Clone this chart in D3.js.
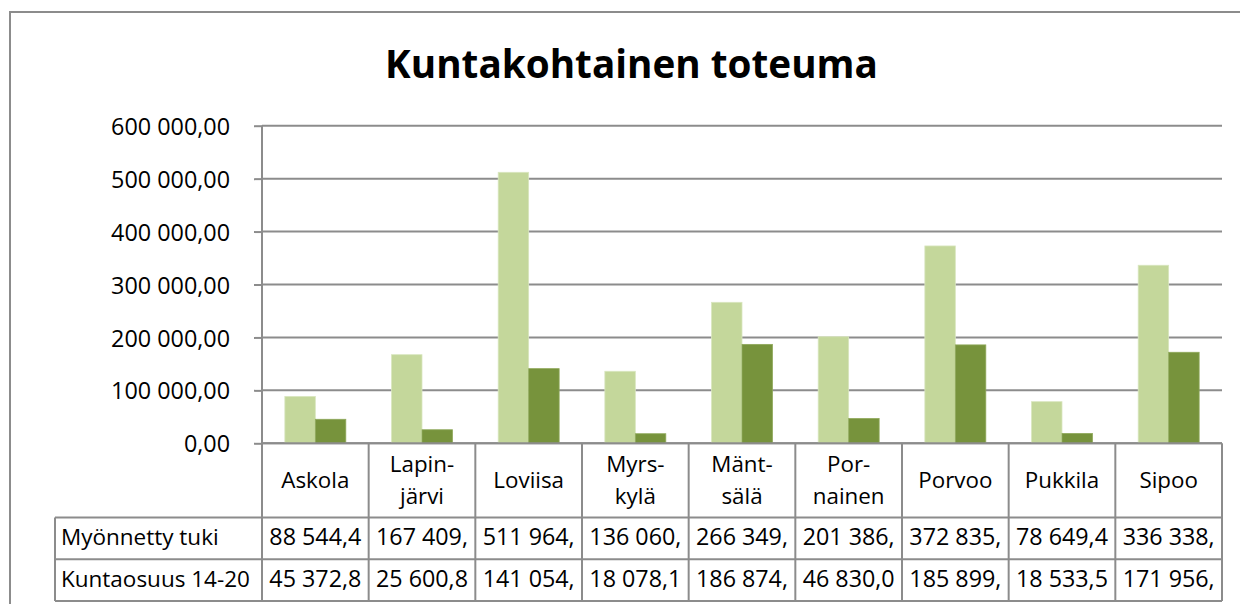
<!DOCTYPE html>
<html>
<head>
<meta charset="utf-8">
<script src="https://cdn.jsdelivr.net/npm/d3@7"></script>
<style>
  html, body { margin: 0; padding: 0; background: #fff; }
  svg { display: block; }
  text { font-family: "Open Sans", "Noto Sans", sans-serif; fill: #000; }
</style>
</head>
<body>
<svg id="chart" width="1240" height="604"></svg>
<script>
// ---------- DATA ----------
const categories = ["Askola", "Lapin-\njärvi", "Loviisa", "Myrs-\nkylä", "Mänt-\nsälä", "Por-\nnainen", "Porvoo", "Pukkila", "Sipoo"];
const seriesNames = ["Myönnetty tuki", "Kuntaosuus 14-20"];
const myonnettyTuki = [88544.4, 167409, 511964, 136060, 266349, 201386, 372835, 78649.4, 336338];
const kuntaosuus = [45372.8, 25600.8, 141054, 18078.1, 186874, 46830.0, 185899, 18533.5, 171956];
const yTicks = [0, 100000, 200000, 300000, 400000, 500000, 600000];
const title = "Kuntakohtainen toteuma";
const colors = ["#C4D79B", "#77933C"];

// ---------- SETUP ----------
const svg = d3.select("#chart");
const fi = d3.formatLocale({ decimal: ",", thousands: " ", grouping: [3], currency: ["", " €"] });
const fmt = fi.format(",.2f");
const grid = "#8c8c8c";

const plot = { left: 262, right: 1222, top: 125.7, bottom: 443.3 };
const table = { labelLeft: 55, row1: 517.5, row2: 559.3, bottom: 601 };

const x = d3.scaleBand().domain(categories).range([plot.left, plot.right]).padding(0);
const step = x.bandwidth();
const barW = step / 3.5; // Excel gap width 150%
const x1 = d3.scaleBand().domain(seriesNames)
  .range([barW * 0.75, barW * 2.75]).padding(0);
const y = d3.scaleLinear().domain([0, 600000]).range([plot.bottom, plot.top]);

function fitSize(sample, weight, target) {
  const t = svg.append("text").attr("font-size", 20).attr("font-weight", weight).text(sample);
  const w = t.node().getComputedTextLength();
  t.remove();
  return 20 * target / w;
}
const titleSize = fitSize(title, "bold", 493);
const tickSize = fitSize("600 000,00", "normal", 119);
const catSize = fitSize("Loviisa", "normal", 70.7);
const valSize = fitSize("88 544,4", "normal", 92);
const rowSize = fitSize("Kuntaosuus 14-20", "normal", 189);

// ---------- OUTER BORDER ----------
svg.append("path").attr("d", "M10,604 V12 H1240")
  .attr("fill", "none").attr("stroke", grid).attr("stroke-width", 2);

// ---------- TITLE ----------
svg.append("text").attr("x", 631.5).attr("y", 78.3)
  .attr("text-anchor", "middle").attr("font-weight", "bold")
  .attr("font-size", titleSize).text(title);

// ---------- GRIDLINES ----------
svg.append("g").selectAll("line").data(yTicks).join("line")
  .attr("x1", plot.left).attr("x2", plot.right)
  .attr("y1", d => y(d)).attr("y2", d => y(d))
  .attr("stroke", grid).attr("stroke-width", 2);

// ---------- BARS ----------
const series = [myonnettyTuki, kuntaosuus];
const groups = svg.append("g").selectAll("g").data(categories).join("g")
  .attr("transform", d => `translate(${x(d)},0)`);
groups.selectAll("rect")
  .data((d, i) => seriesNames.map((s, j) => ({ s, v: series[j][i], j })))
  .join("rect")
  .attr("x", d => x1(d.s))
  .attr("width", x1.bandwidth())
  .attr("y", d => y(d.v))
  .attr("height", d => y(0) - y(d.v))
  .attr("fill", d => colors[d.j])
  .attr("stroke", d => d.j === 0 ? "#d9e6bf" : "#8fa85a")
  .attr("stroke-width", 0.8);

// ---------- Y AXIS ----------
const yAxis = d3.axisLeft(y).tickValues(yTicks).tickFormat(fmt)
  .tickSize(8).tickSizeOuter(0).tickPadding(24);
const yg = svg.append("g").attr("transform", `translate(${plot.left},0)`).call(yAxis);
yg.select(".domain").remove();
yg.selectAll(".tick line").attr("stroke", grid).attr("stroke-width", 2);
yg.selectAll(".tick text")
  .attr("dy", 8.6)
  .attr("font-size", tickSize)
  .attr("font-family", '"Open Sans", sans-serif')
  .attr("fill", "#000");
yg.attr("font-family", null).attr("font-size", null);

// y axis line (extends through the data table)
svg.append("line").attr("x1", plot.left).attr("x2", plot.left)
  .attr("y1", plot.top).attr("y2", table.bottom)
  .attr("stroke", grid).attr("stroke-width", 2);

// ---------- DATA TABLE ----------
const tg = svg.append("g");
// horizontal lines
[table.row1, table.row2, table.bottom].forEach(yy => {
  tg.append("line").attr("x1", table.labelLeft).attr("x2", plot.right)
    .attr("y1", yy).attr("y2", yy).attr("stroke", grid).attr("stroke-width", 2);
});
// x axis baseline
tg.append("line").attr("x1", plot.left).attr("x2", plot.right)
  .attr("y1", y(0)).attr("y2", y(0)).attr("stroke", grid).attr("stroke-width", 2);
// vertical lines at category boundaries
const bounds = categories.map(c => x(c)).concat([plot.right]);
tg.selectAll("line.v").data(bounds).join("line").attr("class", "v")
  .attr("x1", d => d).attr("x2", d => d)
  .attr("y1", y(0)).attr("y2", table.bottom)
  .attr("stroke", grid).attr("stroke-width", 2);
tg.append("line").attr("x1", table.labelLeft).attr("x2", table.labelLeft)
  .attr("y1", table.row1).attr("y2", table.bottom)
  .attr("stroke", grid).attr("stroke-width", 2);

// category labels
const catG = tg.append("g").selectAll("text").data(categories).join("text")
  .attr("text-anchor", "middle").attr("font-size", catSize)
  .attr("transform", d => `translate(${x(d) + step / 2},0)`);
catG.each(function (d) {
  const lines = d.split("\n");
  const baselines = lines.length === 1 ? [488.3] : [472.3, 504.3];
  d3.select(this).selectAll("tspan").data(lines).join("tspan")
    .attr("x", 0).attr("y", (l, i) => baselines[i]).text(l => l);
});

// row labels
const rowBase = [545, 586.7];
tg.selectAll("text.rl").data(seriesNames).join("text").attr("class", "rl")
  .attr("x", table.labelLeft + 6).attr("y", (d, i) => rowBase[i])
  .attr("font-size", rowSize).text(d => d);

// values (Excel truncates the cell text)
series.forEach((vals, j) => {
  tg.append("g").selectAll("text").data(vals).join("text")
    .attr("x", (v, i) => x(categories[i]) + step / 2)
    .attr("y", rowBase[j])
    .attr("text-anchor", "middle")
    .attr("font-size", valSize)
    .text(v => fmt(v).slice(0, 8));
});
</script>
</body>
</html>
